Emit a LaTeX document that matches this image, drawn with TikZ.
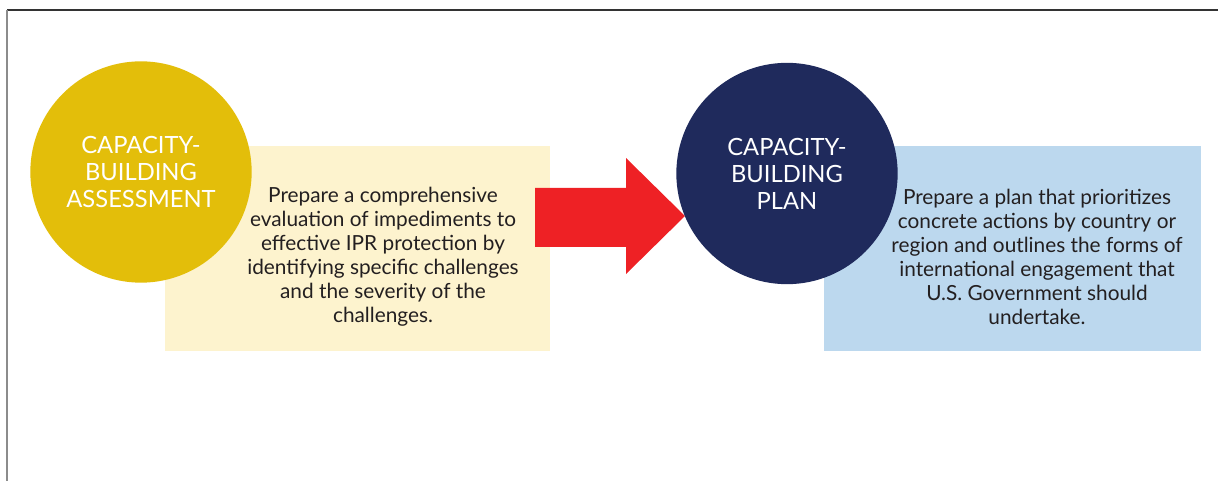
\documentclass[tikz,border=0pt]{standalone}
\usepackage{fontspec}
\setmainfont{Lato}
\usetikzlibrary{positioning}
\definecolor{capyellow}{HTML}{E3BE0A}
\definecolor{capcream}{HTML}{FDF3CE}
\definecolor{capred}{HTML}{EE2125}
\definecolor{capnavy}{HTML}{1F2A5C}
\definecolor{capblue}{HTML}{BCD8EE}
\definecolor{captext}{HTML}{231F20}
\begin{document}
\begin{tikzpicture}[x=0.75pt,y=-0.75pt,
    stage/.style={circle,minimum size=166pt,inner sep=0pt,text=white,
      font=\fontsize{17.8}{20.25}\selectfont,align=center},
    panel/.style={rectangle,inner sep=0pt,minimum height=153.75pt},
    blurb/.style={text=captext,font=\fontsize{15.6}{18}\selectfont,align=center}]
  \useasboundingbox (0,0) rectangle (1218,481);
  % page frame
  \draw[line width=1.2pt,black!80] (7,10) -- (1218,10);
  \draw[line width=1.5pt,black!45] (7,10) -- (7,481);
  % boxes behind the circles
  \node[panel,fill=capcream,minimum width=288.75pt] (assessbox) at (357.5,248.5) {};
  \node[panel,fill=capblue,minimum width=282.75pt] (planbox) at (1012.5,248.5) {};
  \node[blurb] (assesstext) at (383,257) {Prepare a comprehensive\\evaluation of impediments to\\effective IPR protection by\\identifying specific challenges\\and the severity of the\\challenges.};
  \node[blurb] (plantext) at (1037,257) {Prepare a plan that prioritizes\\concrete actions by country or\\region and outlines the forms of\\international engagement that\\U.S. Government should\\undertake.};
  \node[stage,fill=capyellow] (assess) at (141,172) {CAPACITY-\\BUILDING\\ASSESSMENT};
  % block arrow
  \coordinate (tip) at (685,216);
  \fill[capred] (535,188) -- (626,188) -- (626,158) -- (tip) -- (626,274) -- (626,247) -- (535,247) -- cycle;
  \node[stage,fill=capnavy] (plan) at (787,173.5) {CAPACITY-\\BUILDING\\PLAN};
\end{tikzpicture}
\end{document}
